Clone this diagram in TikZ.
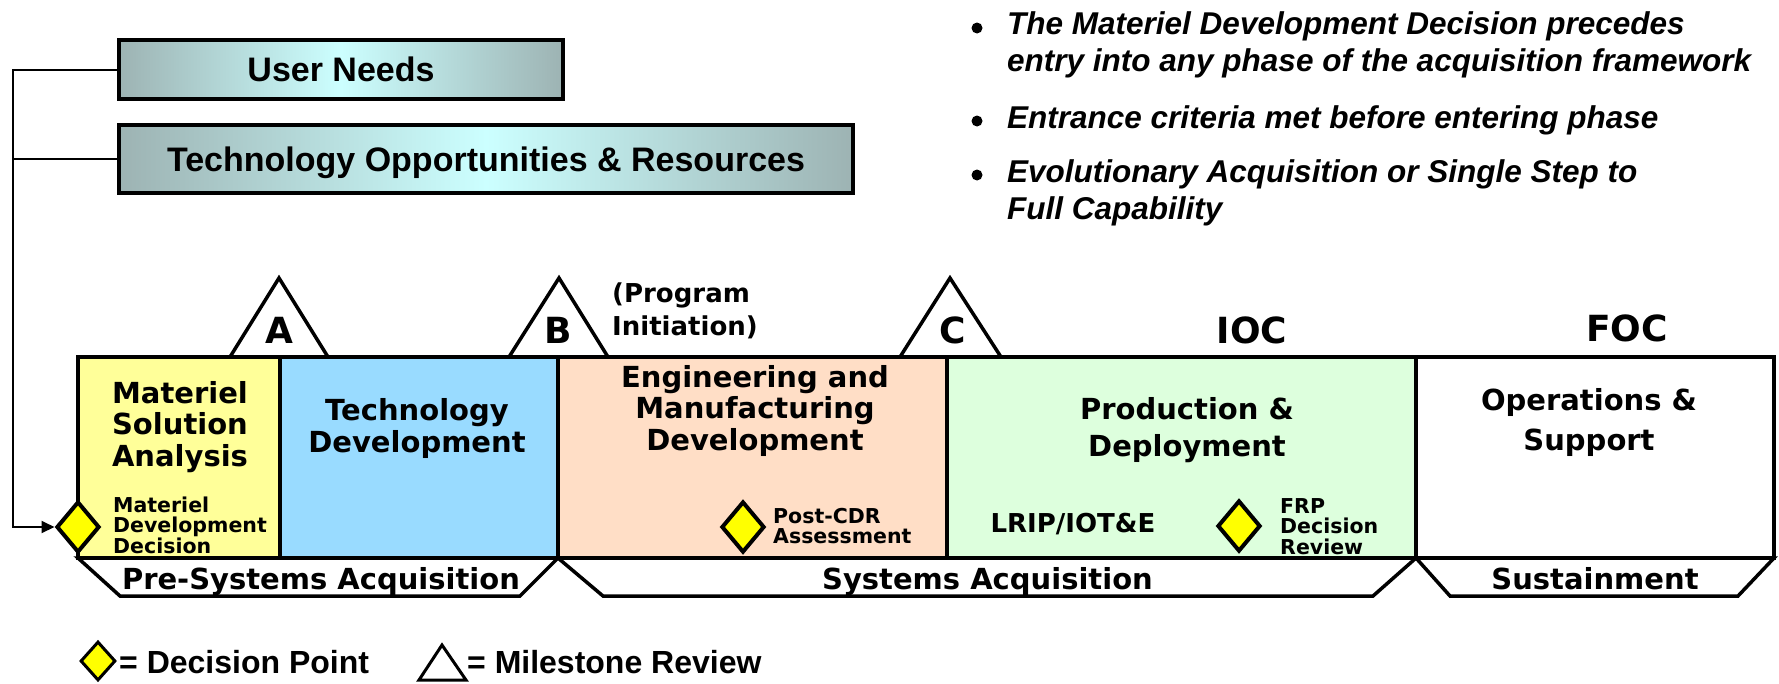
\documentclass[tikz,border=0pt]{standalone}
\usepackage{fontspec}
\setmainfont{Liberation Sans}
\newfontfamily\dvs{DejaVu Sans}
\usetikzlibrary{arrows.meta,shapes.geometric}
\definecolor{msacol}{HTML}{FFFF99}
\definecolor{tdcol}{HTML}{99DBFF}
\definecolor{emdcol}{HTML}{FFDEC6}
\definecolor{pdcol}{HTML}{DDFFDD}
\definecolor{gedge}{HTML}{9DB3B3}
\definecolor{gmid}{HTML}{CCFFFF}
\definecolor{dyellow}{HTML}{FFFF00}
\begin{document}
\begin{tikzpicture}[x=1pt,y=-1pt,
  phasebox/.style={draw, line width=3.5pt, inner sep=0pt, minimum height=201pt},
  ptext/.style={font=\dvs\bfseries\fontsize{29pt}{31.5pt}\selectfont, align=center, inner sep=0pt, anchor=base},
  bandtext/.style={font=\dvs\bfseries\fontsize{29pt}{31.5pt}\selectfont, inner sep=0pt, anchor=base},
  bigtext/.style={font=\dvs\bfseries\fontsize{36pt}{40pt}\selectfont, inner sep=0pt, anchor=base},
  smalltext/.style={font=\dvs\bfseries\fontsize{20.5pt}{20.5pt}\selectfont, align=left, inner sep=0pt, anchor=base west},
  shape line/.style={draw, line width=3.5pt, fill=white, line join=miter},
  decision/.style={diamond, draw, line width=4pt, fill=dyellow, inner sep=0pt, minimum width=43pt, minimum height=51pt},
  topbox/.style={draw, line width=3.5pt, left color=gedge, right color=gedge, middle color=gmid, font=\bfseries\fontsize{34pt}{40pt}\selectfont, text height=24.5pt, text depth=0pt, inner sep=0pt},
  conn/.style={line width=2pt},
  bullettext/.style={font=\bfseries\itshape\fontsize{31.5pt}{37pt}\selectfont, align=left, inner sep=0pt, anchor=base west},
  legendtext/.style={font=\bfseries\fontsize{32pt}{36pt}\selectfont, inner sep=0pt, anchor=base west}
]
\useasboundingbox (0,0) rectangle (1779,683);

% top boxes
\node[topbox, minimum width=444pt, minimum height=59pt] (un) at (341,69.5) {User Needs};
\node[topbox, minimum width=734pt, minimum height=68pt] (tor) at (486,159) {Technology Opportunities \& Resources};

% bullets (multi-line nodes: base = last line)
\fill (977,28) circle (5.5);
\fill (977,121) circle (5.5);
\fill (977,175) circle (5.5);
\node[bullettext] (b1) at (1007,71) {The Materiel Development Decision precedes\\entry into any phase of the acquisition framework};
\node[bullettext] (b2) at (1007,128) {Entrance criteria met before entering phase};
\node[bullettext] (b3) at (1007,219) {Evolutionary Acquisition or Single Step to\\Full Capability};

% milestone triangles
\draw[shape line] (279,278) -- (230,357) -- (328,357) -- cycle;
\draw[shape line] (559,278) -- (509,357) -- (608,357) -- cycle;
\draw[shape line] (950,278) -- (900,357) -- (1001,357) -- cycle;
\node[bigtext] (ma) at (279,343) {A};
\node[bigtext] (mb) at (558,343) {B};
\node[bigtext] (mc) at (953,343) {C};
\node[font=\dvs\bfseries\fontsize{26pt}{33pt}\selectfont, align=left, inner sep=0pt, anchor=base west] (pi) at (612,335) {(Program\\Initiation)};
\node[bigtext] (ioc) at (1252,343) {IOC};
\node[bigtext] (foc) at (1627,341) {FOC};

% phase boxes
\node[phasebox, fill=msacol, minimum width=202pt] (msa) at (179,457.5) {};
\node[phasebox, fill=tdcol, minimum width=278pt] (td) at (419,457.5) {};
\node[phasebox, fill=emdcol, minimum width=389pt] (emd) at (752.5,457.5) {};
\node[phasebox, fill=pdcol, minimum width=469pt] (pd) at (1181.5,457.5) {};
\node[phasebox, fill=white, minimum width=358pt] (os) at (1595,457.5) {};

\node[ptext] (msat) at (180,466) {Materiel\\Solution\\Analysis};
\node[ptext] (tdt) at (417,452) {Technology\\Development};
\node[ptext] (emdt) at (755,450) {Engineering and\\Manufacturing\\Development};
\node[ptext, font=\dvs\bfseries\fontsize{29pt}{37pt}\selectfont] (pdt) at (1187,456) {Production \&\\Deployment};
\node[ptext, font=\dvs\bfseries\fontsize{29pt}{40pt}\selectfont] (ost) at (1589,450) {Operations \&\\Support};

% decision points
\node[decision] (mdd) at (78,527) {};
\node[decision] (pcdr) at (743,527) {};
\node[decision] (frp) at (1239,526) {};
\node[smalltext] (mddt) at (113,553) {Materiel\\Development\\Decision};
\node[smalltext, font=\dvs\bfseries\fontsize{20.5pt}{20pt}\selectfont] (pcdrt) at (773,543) {Post-CDR\\Assessment};
\node[smalltext] (frpt) at (1280,554) {FRP\\Decision\\Review};
\node[font=\dvs\bfseries\fontsize{26pt}{30pt}\selectfont, inner sep=0pt, anchor=base] (lrip) at (1073,532) {LRIP/IOT\&E};

% bands
\draw[shape line] (78,558) -- (120,596) -- (520,596) -- (558,558) -- cycle;
\draw[shape line] (558,558) -- (603,596) -- (1373,596) -- (1416,558) -- cycle;
\draw[shape line] (1416,558) -- (1450,596) -- (1738,596) -- (1774,558) -- cycle;
\node[bandtext] (psa) at (321,589) {Pre-Systems Acquisition};
\node[bandtext] (sa) at (987.5,589) {Systems Acquisition};
\node[bandtext] (sus) at (1595,589) {Sustainment};

% connector
\coordinate (bus) at (13,69.5);
\draw[conn, -{Triangle[length=13pt, width=12pt]}] (un.west) -- (bus) |- (mdd.west);
\draw[conn] (tor.west) -- (tor.west -| bus);

% legend
\node[decision, minimum width=35pt, minimum height=39pt, line width=3pt] (ldp) at (98,661) {};
\node[legendtext] (ldpt) at (119,673) {= Decision Point};
\draw[draw, line width=3pt, fill=white] (442,645) -- (419,680) -- (466,680) -- cycle;
\node[legendtext] (lmrt) at (467,673) {= Milestone Review};
\end{tikzpicture}
\end{document}
